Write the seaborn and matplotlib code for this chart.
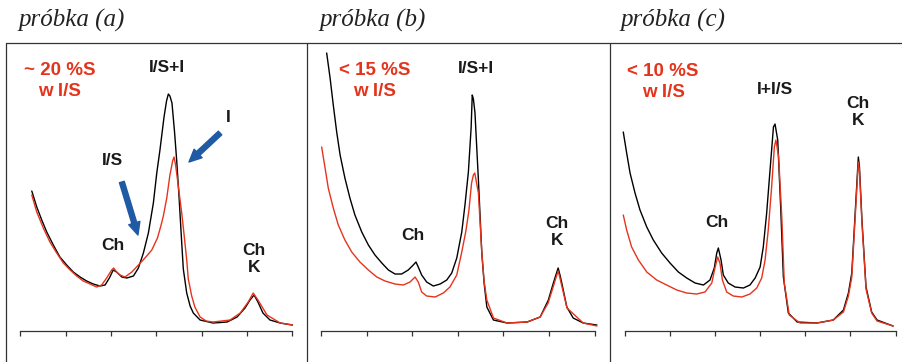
"""
Three XRD patterns (black / red) of clay samples, drawn side by side.
"""
import matplotlib
matplotlib.use("Agg")
import matplotlib.pyplot as plt
from matplotlib.lines import Line2D
import seaborn as sns

# panel titles and sample notes
titles = ["próbka (a)", "próbka (b)", "próbka (c)"]
notes = ["~ 20 %S\nw I/S", "< 15 %S\nw I/S", "< 10 %S\nw I/S"]
ticks = [2, 4, 6, 8, 10, 12, 14]

# sample (a): degrees 2theta and intensity (a.u.)
a_black_x = [2.51, 2.73, 2.95, 3.17, 3.46, 3.75, 4.05, 4.34, 4.64, 4.93,
             5.22, 5.52, 5.74, 5.93, 6.10, 6.25, 6.48, 6.70, 6.99, 7.21,
             7.43, 7.65, 7.87, 8.02, 8.16, 8.34, 8.45, 8.53, 8.60, 8.69,
             8.80, 8.90, 9.01, 9.12, 9.19, 9.34, 9.49, 9.63, 9.93, 10.50,
             11.12, 11.56, 11.91, 12.13, 12.31, 12.48, 12.70, 13.01, 13.46, 14.0]
a_black_y = [140, 124, 111, 99, 86, 74, 66, 59, 54, 50,
             47, 45, 46, 53, 61, 59, 54, 53, 55, 63,
             78, 98, 128, 158, 181, 214, 230, 237, 235, 228,
             200, 170, 131, 88, 62, 38, 25, 18, 11, 8,
             9, 14, 23, 31, 36, 29, 18, 11, 8, 6]
a_red_x = [2.51, 2.73, 3.02, 3.31, 3.61, 3.90, 4.20, 4.49, 4.78, 5.08,
           5.37, 5.59, 5.81, 6.03, 6.12, 6.25, 6.40, 6.62, 6.92, 7.21,
           7.50, 7.80, 8.05, 8.20, 8.31, 8.46, 8.60, 8.72, 8.78, 8.85,
           8.93, 9.12, 9.23, 9.34, 9.41, 9.56, 9.70, 9.93, 10.20, 10.50,
           11.25, 11.70, 12.05, 12.27, 12.48, 12.88, 13.46, 14.0]
a_red_y = [136, 119, 103, 89, 78, 68, 61, 55, 50, 47,
           44, 46, 53, 61, 63, 59, 56, 54, 59, 66,
           73, 81, 93, 105, 115, 133, 156, 170, 174, 166,
           152, 118, 95, 71, 52, 35, 24, 14, 10, 9,
           11, 18, 29, 38, 31, 16, 8, 6]

# sample (b)
b_black_x = [2.24, 2.39, 2.53, 2.68, 2.83, 3.04, 3.26, 3.48, 3.78, 4.07,
             4.36, 4.66, 4.95, 5.24, 5.53, 5.82, 6.04, 6.16, 6.26, 6.41,
             6.63, 6.92, 7.22, 7.51, 7.73, 7.95, 8.17, 8.31, 8.46, 8.58,
             8.63, 8.68, 8.75, 8.90, 9.05, 9.15, 9.27, 9.56, 10.16, 11.04,
             11.61, 11.97, 12.19, 12.30, 12.40, 12.48, 12.56, 12.78, 13.06,
             13.50, 14.1]
b_black_y = [278, 253, 226, 199, 176, 153, 133, 116, 99, 86,
             76, 68, 61, 57, 57, 61, 66, 69, 64, 56,
             49, 45, 47, 51, 58, 73, 99, 126, 159, 203,
             236, 232, 218, 151, 78, 48, 24, 11, 8, 9,
             14, 31, 48, 56, 63, 56, 48, 24, 13,
             8, 6]
b_red_x = [2.02, 2.17, 2.31, 2.53, 2.75, 3.04, 3.34, 3.70, 4.07, 4.44,
           4.80, 5.24, 5.60, 5.90, 6.12, 6.26, 6.41, 6.63, 7.00, 7.36,
           7.65, 7.95, 8.17, 8.35, 8.48, 8.60, 8.68, 8.74, 8.90, 9.05,
           9.15, 9.27, 9.56, 10.16, 11.04, 11.61, 11.96, 12.18, 12.30, 12.40,
           12.48, 12.57, 12.79, 13.50, 14.1]
b_red_y = [184, 163, 143, 123, 106, 91, 79, 69, 61, 54,
           50, 47, 46, 49, 54, 49, 39, 35, 34, 38,
           44, 56, 79, 100, 120, 148, 156, 158, 138, 78,
           50, 31, 13, 8, 9, 14, 28, 44, 53, 60,
           53, 44, 23, 8, 5]

# sample (c)
c_black_x = [1.94, 2.09, 2.24, 2.46, 2.68, 2.98, 3.27, 3.64, 4.01, 4.38,
             4.75, 5.12, 5.49, 5.78, 5.97, 6.08, 6.15, 6.27, 6.37, 6.59,
             6.89, 7.26, 7.55, 7.78, 8.00, 8.14, 8.29, 8.44, 8.59, 8.66,
             8.78, 8.91, 9.03, 9.25, 9.64, 10.52, 11.24, 11.69, 11.91, 12.06,
             12.16, 12.31, 12.35, 12.40, 12.51, 12.69, 12.94, 13.18, 13.89]
c_black_y = [199, 178, 158, 138, 121, 104, 91, 78, 68, 59,
             53, 48, 46, 51, 63, 78, 83, 71, 56, 48,
             44, 43, 46, 53, 64, 84, 118, 161, 204, 207,
             191, 124, 54, 18, 9, 8, 11, 21, 38, 58,
             98, 158, 174, 164, 111, 44, 19, 11, 5]
c_red_x = [1.94, 2.09, 2.31, 2.61, 2.98, 3.42, 3.86, 4.31, 4.75, 5.19,
           5.56, 5.86, 6.00, 6.12, 6.22, 6.33, 6.52, 6.81, 7.19, 7.55,
           7.85, 8.07, 8.22, 8.36, 8.51, 8.63, 8.70, 8.82, 8.96, 9.07,
           9.29, 9.77, 10.52, 11.24, 11.69, 11.91, 12.06, 12.16, 12.31, 12.35,
           12.40, 12.51, 12.69, 12.94, 13.18, 13.89]
c_red_y = [116, 101, 84, 71, 59, 51, 46, 41, 38, 37,
           39, 48, 63, 74, 68, 51, 39, 35, 34, 37,
           43, 53, 71, 101, 144, 184, 191, 174, 114, 48,
           16, 8, 8, 11, 19, 35, 54, 94, 153, 169,
           160, 108, 42, 18, 10, 5]

RED = "#e5341c"
BLUE = "#1f5aa5"
FRAME = "#333333"


def draw_panel(ax, bx, by, rx, ry, note, note_xy):
    """Black and red pattern, bottom axis with ticks only."""
    sns.lineplot(x=bx, y=by, ax=ax, color="black", lw=1.0,
                 estimator=None, sort=False)
    sns.lineplot(x=rx, y=ry, ax=ax, color=RED, lw=1.0,
                 estimator=None, sort=False)
    ax.set_xlim(2, 14)
    ax.set_ylim(0, 288)
    ax.set_xticks(ticks)
    ax.set_yticks([])
    ax.tick_params(axis="x", bottom=True, direction="out", length=3.5,
                   width=0.9, color=FRAME, labelbottom=False)
    for side in ["top", "left", "right"]:
        ax.spines[side].set_visible(False)
    ax.spines["bottom"].set_color(FRAME)
    ax.spines["bottom"].set_linewidth(0.9)
    ax.set_xlabel("")
    ax.set_ylabel("")
    ax.patch.set_alpha(0)
    for line in ax.lines:
        line.set_clip_on(False)
    ax.text(note_xy[0], note_xy[1], note, color=RED, fontsize=13.5,
            fontweight="bold", ha="center", va="center", linespacing=1.25)


def label(ax, x, y, s):
    ax.text(x, y, s, color="#1a1a1a", fontsize=12.5, fontweight="bold",
            ha="center", va="center", linespacing=1.2)


def main() -> None:
    sns.set_style("white")
    plt.rcParams["font.family"] = ["Liberation Sans", "DejaVu Sans"]

    fig = plt.figure(figsize=(9.02, 3.62), dpi=100)
    bottom, height = 0.0856, 0.7956
    ax_a = fig.add_axes([0.0224, bottom, 0.3018, height])
    ax_b = fig.add_axes([0.3561, bottom, 0.3031, height])
    ax_c = fig.add_axes([0.6925, bottom, 0.3004, height])

    draw_panel(ax_a, a_black_x, a_black_y, a_red_x, a_red_y, notes[0], (3.75, 250))
    draw_panel(ax_b, b_black_x, b_black_y, b_red_x, b_red_y, notes[1], (4.36, 250))
    draw_panel(ax_c, c_black_x, c_black_y, c_red_x, c_red_y, notes[2], (3.70, 249))

    # peak labels
    label(ax_a, 8.47, 264, "I/S+I")
    label(ax_a, 11.16, 214, "I")
    label(ax_a, 6.05, 171, "I/S")
    label(ax_a, 6.10, 86, "Ch")
    label(ax_a, 12.31, 72, "Ch\nK")
    label(ax_b, 8.80, 263, "I/S+I")
    label(ax_b, 6.03, 96, "Ch")
    label(ax_b, 12.35, 99, "Ch\nK")
    label(ax_c, 8.66, 242, "I+I/S")
    label(ax_c, 6.09, 109, "Ch")
    label(ax_c, 12.34, 219, "Ch\nK")

    # blue arrows in sample (a)
    arrow = dict(arrowstyle="simple,head_length=0.75,head_width=0.7,tail_width=0.3",
                 color=BLUE, mutation_scale=12, shrinkA=0, shrinkB=0)
    ax_a.annotate("", xy=(7.19, 96), xytext=(6.48, 149), arrowprops=arrow)
    ax_a.annotate("", xy=(9.44, 169), xytext=(10.81, 198), arrowprops=arrow)

    # outer frame
    top = 0.8812
    fig.add_artist(Line2D([0.00665, 1.0], [top, top], color=FRAME, lw=0.9))
    for x in [0.00665, 0.3404, 0.6763]:
        fig.add_artist(Line2D([x, x], [0, top], color=FRAME, lw=0.9))

    # titles
    for x, t in zip([0.020, 0.354, 0.688], titles):
        fig.text(x, 0.9254, t, family="Liberation Serif", style="italic",
                 fontsize=18, color="#222222", va="baseline", ha="left")

    fig.savefig("out.png", dpi=100)
    plt.close(fig)


if __name__ == "__main__":
    main()
